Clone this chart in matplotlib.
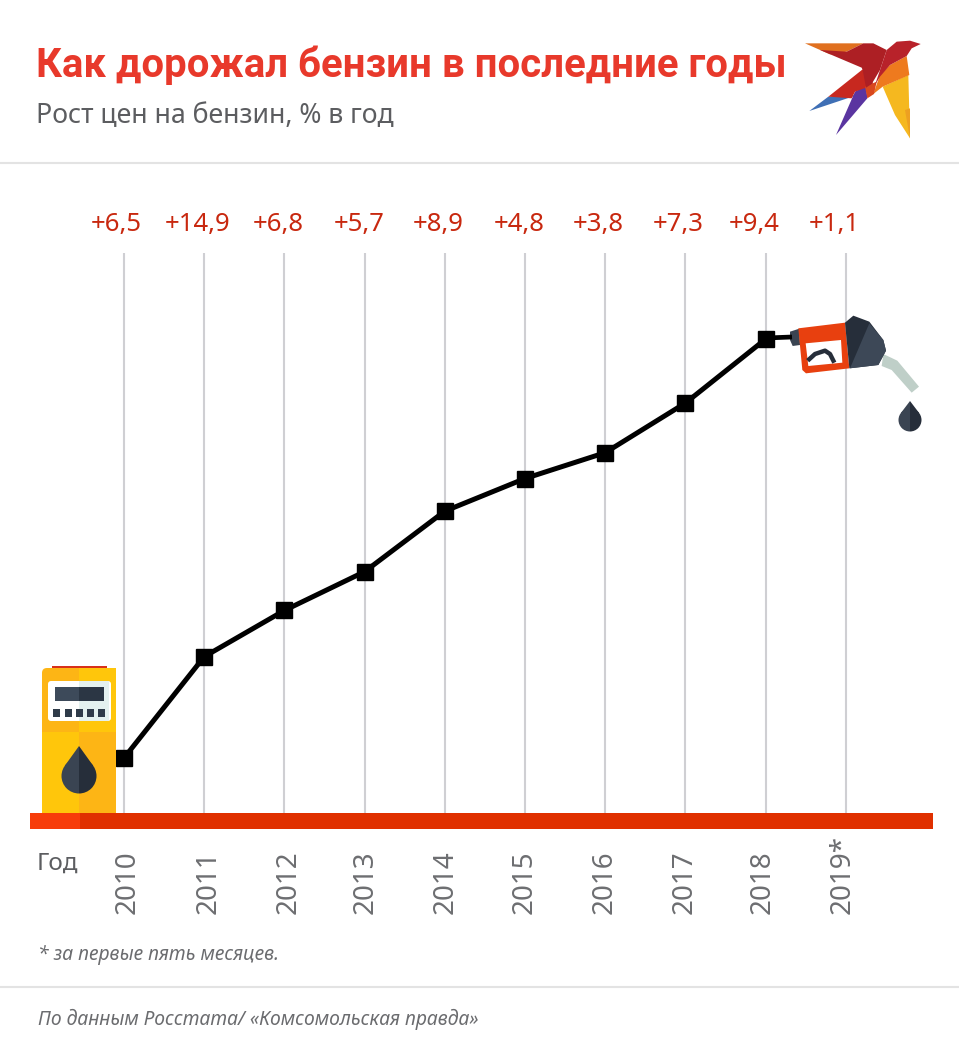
import math

import matplotlib
matplotlib.use("Agg")
import matplotlib.pyplot as plt
from matplotlib.patches import FancyBboxPatch, Polygon, Rectangle, Wedge
from matplotlib.transforms import ScaledTranslation

plt.rcParams["font.family"] = ["Noto Sans", "DejaVu Sans"]

years = [2010, 2011, 2012, 2013, 2014, 2015, 2016, 2017, 2018, 2019]
year_labels = ["2010", "2011", "2012", "2013", "2014", "2015", "2016", "2017", "2018", "2019*"]
growth_labels = ["+6,5", "+14,9", "+6,8", "+5,7", "+8,9", "+4,8", "+3,8", "+7,3", "+9,4", "+1,1"]
line_years = [2010, 2011, 2012, 2013, 2014, 2015, 2016, 2017, 2018]
line_values = [6.5, 21.4, 28.2, 33.9, 42.8, 47.6, 51.4, 58.7, 68.1]

W, H = 959, 1060
RED = "#e8392b"
GRAY = "#5c5d60"
DARK = "#3a4452"
DARKER = "#262e3a"


def drop(ax, cx, tip, cy, r, left, right):
    # two-tone oil drop: cone from the tip, tangent to a circle
    ang = math.asin(r / (cy - tip))
    tx = r * math.cos(ang)
    ty = cy - r * math.sin(ang)
    ax.add_patch(Polygon([(cx, tip), (cx - tx, ty), (cx, cy)], fc=left, ec="none"))
    ax.add_patch(Polygon([(cx, tip), (cx + tx, ty), (cx, cy)], fc=right, ec="none"))
    ax.add_patch(Wedge((cx, cy), r, 90, 270, fc=left, ec="none"))
    ax.add_patch(Wedge((cx, cy), r, -90, 90, fc=right, ec="none"))


def draw_pump(ax):
    ax.add_patch(Rectangle((52, 665.5), 55, 5, fc="#d8301a", ec="none"))
    ax.add_patch(FancyBboxPatch((45, 671), 68, 30, boxstyle="round,pad=3,rounding_size=5",
                                fc="#fdb515", ec="none"))
    ax.add_patch(Rectangle((79, 668), 37, 64, fc="#ffc60b", ec="none"))
    ax.add_patch(Rectangle((42, 680), 37, 52, fc="#fdb515", ec="none"))
    ax.add_patch(Rectangle((42, 732), 37, 81, fc="#ffc60b", ec="none"))
    ax.add_patch(Rectangle((79, 732), 37, 81, fc="#fdb515", ec="none"))
    ax.add_patch(FancyBboxPatch((50, 683), 59, 36, boxstyle="round,pad=2,rounding_size=3",
                                fc="white", ec="none"))
    ax.add_patch(Rectangle((79, 681), 30, 40, fc="#e4f1ef", ec="none"))
    ax.add_patch(Rectangle((55, 687), 24, 14, fc="#3d4a5a", ec="none"))
    ax.add_patch(Rectangle((79, 687), 25, 14, fc="#2b3644", ec="none"))
    for bx in (53, 65, 76, 87, 98):
        ax.add_patch(Rectangle((bx, 709), 7, 8, fc="#2f3b49", ec="none"))
    drop(ax, 79, 746, 776, 17.5, DARK, DARKER)
    # base bar
    ax.add_patch(Rectangle((30, 813), 50, 16, fc="#f73c0a", ec="none"))
    ax.add_patch(Rectangle((80, 813), 853, 16, fc="#e03000", ec="none"))


def draw_nozzle(ax):
    def z(pts):
        return [(740 + x / 3, 290 + y / 3) for x, y in pts]

    ax.plot([766, 792], [338, 337], color="black", lw=3.4, solid_capstyle="butt")
    ax.add_patch(Polygon(z([(430, 192), (472, 212), (537, 290), (515, 308), (455, 240), (425, 228)]),
                         fc="#bfcfc8", ec="none"))
    ax.add_patch(Polygon(z([(150, 125), (178, 116), (180, 165), (158, 168), (150, 150)]),
                         fc=DARK, ec="none"))
    ax.add_patch(Polygon(z([(175, 115), (315, 98), (328, 235), (198, 250), (187, 240)]),
                         fc="#e8400f", ec="none"))
    ax.add_patch(Polygon(z([(197, 160), (303, 150), (307, 218), (205, 228)]), fc="white", ec="none"))
    ax.plot(*zip(*z([(203, 212), (225, 192), (255, 182), (270, 192), (283, 218)])),
            color=DARKER, lw=3.2, solid_capstyle="butt")
    ax.add_patch(Polygon(z([(315, 98), (340, 77), (388, 95), (430, 150), (438, 182), (415, 225),
                            (328, 235)]), fc=DARKER, ec="none"))
    ax.add_patch(Polygon(z([(388, 100), (430, 150), (438, 182), (415, 225), (330, 235)]),
                         fc="#3d4857", ec="none"))
    drop(ax, 910, 401, 420, 11.5, DARK, DARKER)


def draw_bird(ax):
    def z(pts):
        return [(780 + x / 3, 20 + y / 3) for x, y in pts]

    parts = [
        ([(308, 200), (385, 165), (390, 355), (345, 285)], "#f5b81f"),
        ([(375, 270), (390, 265), (390, 355)], "#eda021"),
        ([(280, 222), (300, 165), (330, 135), (380, 108), (388, 165), (308, 200)], "#ee7a1e"),
        ([(88, 273), (145, 230), (232, 225)], "#3f6fb5"),
        ([(168, 345), (225, 215), (258, 195), (262, 235)], "#5a35a0"),
        ([(145, 230), (248, 148), (280, 190), (258, 203), (225, 215), (215, 235)], "#c7281f"),
        ([(255, 200), (290, 185), (282, 222), (262, 235)], "#d9481f"),
        ([(75, 70), (250, 70), (200, 95), (150, 103)], "#e0701f"),
        ([(120, 90), (200, 95), (250, 70), (280, 70), (320, 90), (300, 150), (275, 192), (258, 203),
          (248, 150), (245, 143)], "#ad1f24"),
        ([(320, 90), (350, 65), (390, 62), (422, 72), (395, 85), (380, 108), (330, 135), (300, 170),
          (285, 195), (300, 150)], "#b8222a"),
    ]
    for pts, col in parts:
        ax.add_patch(Polygon(z(pts), fc=col, ec="none"))


fig = plt.figure(figsize=(W / 100, H / 100), dpi=100)

# chart axes, placed by pixel box: x 30..933, y 253..813
ax = fig.add_axes([30 / W, 1 - 813 / H, 903 / W, 560 / H])
ax.patch.set_alpha(0)
ax.set_xlim(2010 - 94 / 80.2, 2010 + 809 / 80.2)
ax.set_ylim(-10.8 / 6.8, 549.2 / 6.8)
for s in ax.spines.values():
    s.set_visible(False)
ax.set_yticks([])
ax.set_xticks(years)
ax.set_xticklabels(year_labels, rotation=90, va="bottom", ha="center", fontsize=20, color="#6d6e71")
ax.tick_params(axis="x", length=0, pad=73)
# year labels drift left of their gridlines in the original
tick_shift = [4, 4, 4, 1, 1, 0, -1, -1, -3, -3]
for lab, dx in zip(ax.get_xticklabels(), tick_shift):
    lab.set_transform(lab.get_transform() + ScaledTranslation(dx / 100, 0, fig.dpi_scale_trans))
ax.grid(axis="x", color="#cfcfd3", lw=1.5, zorder=0)
ax.set_axisbelow(True)
ax.plot(line_years, line_values, color="black", lw=3.6, marker="s", ms=11.5,
        solid_joinstyle="miter", zorder=3)

label_shift = [-8, -7, -6, -5, -7, -6, -7, -7, -11, -11]
for yr, lab, dx in zip(years, growth_labels, label_shift):
    ax.annotate(lab, (yr, 1), xycoords=("data", "axes fraction"), xytext=(dx * 0.72, 29 * 0.72),
                textcoords="offset points", ha="center", va="center", fontsize=18.5, color="#c8280f")

# overlay in image pixels for header, footer and pictures
ov = fig.add_axes([0, 0, 1, 1], zorder=5)
ov.patch.set_alpha(0)
ov.set_xlim(0, W)
ov.set_ylim(H, 0)
ov.axis("off")

ov.text(36, 65, "Как дорожал бензин в последние годы", fontsize=28.9, fontweight="bold",
        family=["Roboto", "DejaVu Sans"], color=RED, va="center", ha="left")
ov.text(36, 116, "Рост цен на бензин, % в год", fontsize=19.2, color=GRAY, va="center", ha="left")
ov.plot([0, W], [163, 163], color="#e3e3e3", lw=1.5)
ov.plot([0, W], [987, 987], color="#e3e3e3", lw=1.5)
ov.text(37, 864, "Год", fontsize=17.5, color=GRAY, va="center", ha="left")
ov.text(38, 955, "* за первые пять месяцев.", fontsize=13.9, style="italic", color="#6b6c6f",
        va="center", ha="left")
ov.text(38, 1019, "По данным Росстата/ «Комсомольская правда»", fontsize=13.9, style="italic",
        color="#6b6c6f", va="center", ha="left")

draw_pump(ov)
draw_nozzle(ov)
draw_bird(ov)

fig.savefig("out.png", dpi=100)
